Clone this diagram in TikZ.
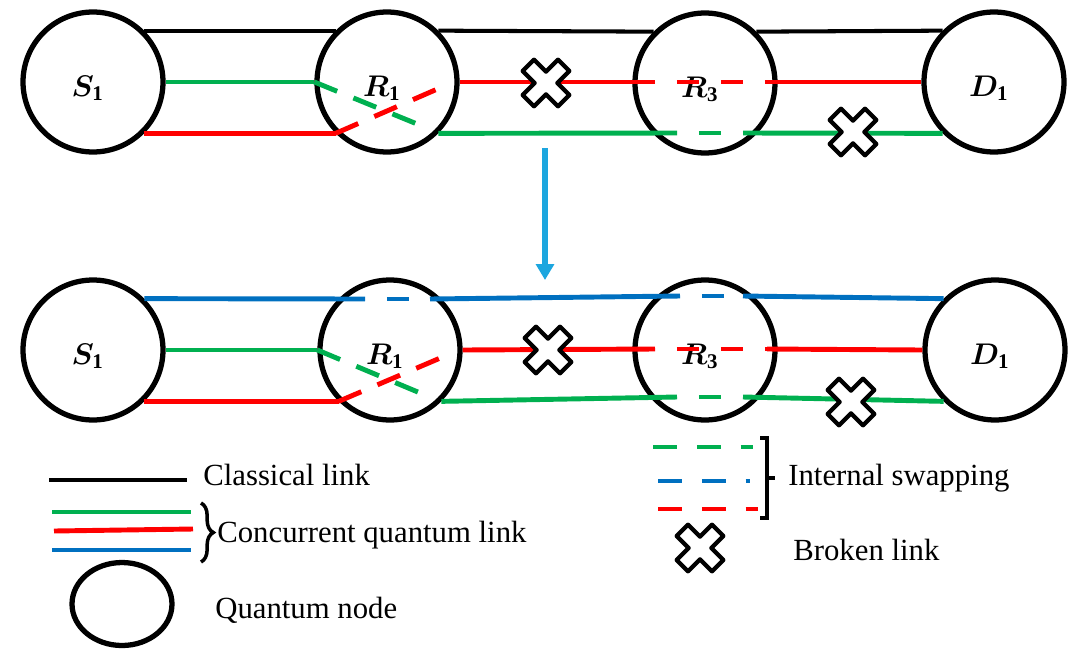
\RequirePackage{fix-cm}
\documentclass[tikz,border=0pt]{standalone}
\usepackage{fontspec}
\setmainfont{Liberation Serif}
\usepackage{amsmath}
\usepackage{bm}
\usetikzlibrary{calc,arrows.meta,decorations.pathreplacing}

\definecolor{qgreen}{HTML}{00B050}
\definecolor{qred}{HTML}{FF0000}
\definecolor{qblue}{HTML}{0070C0}
\definecolor{arrowblue}{HTML}{1CA6DF}

\newcommand{\qname}[2]{$\boldsymbol{#1}_{\mathbf{#2}}$}

\tikzset{
  qnode/.style={circle, draw=black, line width=3pt, minimum size=2.8cm, inner sep=0pt},
  lbl/.style={font=\fontsize{17}{19}\selectfont, xshift=-3pt, yshift=-3.5pt},
  classical/.style={line width=2.3pt, black},
  qlink/.style={line width=2.8pt},
  swapdash/.style={qlink, dash pattern=on 14pt off 10pt},
  gapdash/.style={qlink, dash pattern=on 12.5pt off 12.5pt, dash phase=12.5pt},
  legdash/.style={qlink, dash pattern=on 13.6pt off 11.3pt},
  legtext/.style={font=\fontsize{17.5}{20}\selectfont, inner sep=0pt, anchor=west},
  brokenx/.pic={
    \filldraw[fill=white, draw=black, line width=2.4pt, line join=round, rotate=45]
      (8,25) -- (8,8) -- (25,8) -- (25,-8) -- (8,-8) -- (8,-25) -- (-8,-25) -- (-8,-8)
      -- (-25,-8) -- (-25,8) -- (-8,8) -- (-8,25) -- cycle;
  }
}

\begin{document}
\begin{tikzpicture}[x=0.02cm, y=-0.02cm]
    \useasboundingbox (0,0) rectangle (1079,650);

    % Quantum nodes, before swapping
    \node[qnode, label={[lbl]center:\qname{S}{1}}] (S1) at (93,82) {};
    \node[qnode, label={[lbl]center:\qname{R}{1}}] (R1) at (387,82) {};
    \node[qnode, label={[lbl]center:\qname{R}{3}}] (R3) at (705,83) {};
    \node[qnode, label={[lbl]center:\qname{D}{1}}] (D1) at (994,82) {};

    % Classical links
    \draw[classical] (S1.45) -- (R1.135);
    \draw[classical] (R1.45) -- (R3.135);
    \draw[classical] (R3.45) -- (D1.135);

    % Swapping points inside R1 and R3
    \coordinate (gsw) at ($(R1)+(35,44)$);
    \coordinate (rsw) at ($(R1)+(55,5)$);
    \coordinate (gin) at ($(R3)+(-28,50)$);
    \coordinate (gout) at ($(R3)+(38,50)$);
    \coordinate (rin) at ($(R3)+(-50,-1)$);
    \coordinate (rout) at ($(R3)+(62,-1)$);

    % Green link
    \draw[qlink, qgreen] (S1.east) -- (R1.west);
    \draw[swapdash, qgreen] (R1.west) -- (gsw);
    \draw[qlink, qgreen] (R1.-45) -- (gin);
    \draw[gapdash, qgreen] (gin) -- (gout);
    \draw[qlink, qgreen] (gout) -- (D1.-135);

    % Red link
    \draw[qlink, qred] (S1.-45) -- (R1.-135);
    \draw[swapdash, qred] (R1.-135) -- (rsw);
    \draw[qlink, qred] (R1.east) -- (rin);
    \draw[gapdash, qred] (rin) -- (rout);
    \draw[qlink, qred] (rout) -- (D1.west);

    % Broken links
    \pic at (546,83) {brokenx};
    \pic at (853,132) {brokenx};

    % Arrow to the second stage
    \coordinate (arrTop) at (545,148);
    \coordinate (arrBot) at (545,280);
    \draw[-{Triangle[width=10pt,length=9pt]}, line width=3pt, arrowblue] (arrTop) -- (arrBot);

    % Quantum nodes, after swapping
    \node[qnode, label={[lbl]center:\qname{S}{1}}] (S1b) at (93,350) {};
    \node[qnode, label={[lbl]center:\qname{R}{1}}] (R1b) at (390,350) {};
    \node[qnode, label={[lbl]center:\qname{R}{3}}] (R3b) at (705,350) {};
    \node[qnode, label={[lbl]center:\qname{D}{1}}] (D1b) at (995,350) {};

    \coordinate (bin1) at ($(R1b)+(-25,-51)$);
    \coordinate (bout1) at ($(R1b)+(40,-51)$);
    \coordinate (bin3) at ($(R3b)+(-25,-54)$);
    \coordinate (bout3) at ($(R3b)+(38,-54)$);
    \coordinate (gsw2) at ($(R1b)+(35,45)$);
    \coordinate (rsw2) at ($(R1b)+(55,6)$);
    \coordinate (gin2) at ($(R3b)+(-28,47)$);
    \coordinate (gout2) at ($(R3b)+(38,47)$);
    \coordinate (rin2) at ($(R3b)+(-50,-1)$);
    \coordinate (rout2) at ($(R3b)+(62,-1)$);

    % Blue link
    \draw[qlink, qblue] (S1b.45) -- (bin1);
    \draw[gapdash, qblue] (bin1) -- (bout1);
    \draw[qlink, qblue] (bout1) -- (bin3);
    \draw[gapdash, qblue] (bin3) -- (bout3);
    \draw[qlink, qblue] (bout3) -- (D1b.135);

    % Green link
    \draw[qlink, qgreen] (S1b.east) -- (R1b.west);
    \draw[swapdash, qgreen] (R1b.west) -- (gsw2);
    \draw[qlink, qgreen] (R1b.-45) -- (gin2);
    \draw[gapdash, qgreen] (gin2) -- (gout2);
    \draw[qlink, qgreen] (gout2) -- (D1b.-135);

    % Red link
    \draw[qlink, qred] (S1b.-45) -- (R1b.-135);
    \draw[swapdash, qred] (R1b.-135) -- (rsw2);
    \draw[qlink, qred] (R1b.east) -- (rin2);
    \draw[gapdash, qred] (rin2) -- (rout2);
    \draw[qlink, qred] (rout2) -- (D1b.west);

    % Broken links
    \pic at (548,350) {brokenx};
    \pic at (851,402) {brokenx};

    % Legend, left
    \draw[classical, line width=2.8pt] (49,480) -- (187,480);
    \node[legtext] (lclassic) at (203,475) {Classical link};
    \draw[qlink, qgreen] (52,512) -- (191,512);
    \draw[qlink, qred] (54,531) -- (193,529);
    \draw[qlink, qblue] (52,550) -- (191,550);
    \draw[decorate, decoration={brace, amplitude=7pt}, line width=2pt] (201,503) -- (201,562);
    \node[legtext] (lquantum) at (217,535) {Concurrent quantum link};
    \draw[line width=3pt] (122,604) ellipse [x radius=1cm, y radius=0.83cm];
    \node[legtext] (lnode) at (215,610) {Quantum node};

    % Legend, right
    \draw[legdash, qgreen] (653,447) -- (753,447);
    \draw[legdash, qblue] (658,481) -- (750,481);
    \draw[legdash, qred] (658,509) -- (758,509);
    \draw[line width=2.2pt] (760,438) -- (767,438) -- (767,518) -- (760,518);
    \draw[line width=2.2pt] (767,478) -- (775,478);
    \node[legtext] (lswap) at (788,478) {Internal swapping};
    \pic at (700,548) {brokenx};
    \node[legtext] (lbroken) at (793,550) {Broken link};

\end{tikzpicture}
\end{document}
